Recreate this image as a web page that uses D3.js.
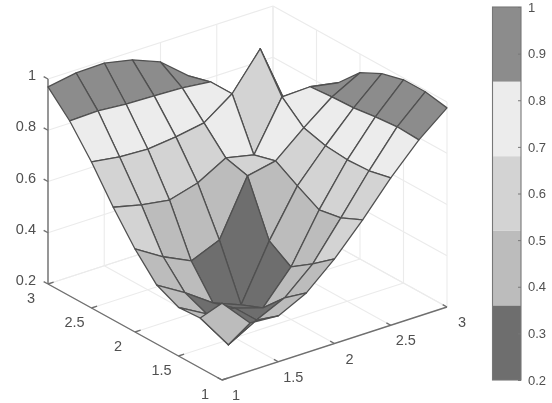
<!doctype html>
<html lang="en">
<head>
<meta charset="utf-8" />
<title>Surface plot</title>
<style>
  html, body { margin: 0; padding: 0; background: #fff; }
  svg { display: block; filter: blur(0.6px); }
  text { font-family: "Liberation Sans", Arial, sans-serif; fill: #505050; }
</style>
</head>
<body>
<svg id="chart" width="552" height="403"></svg>
<script src="https://cdn.jsdelivr.net/npm/d3@7"></script>
<script>
// grid positions
var xValues = [1, 1.25, 1.5, 1.75, 2, 2.25, 2.5, 2.75, 3];
var yValues = [1, 1.25, 1.5, 1.75, 2, 2.25, 2.5, 2.75, 3];

// heights, one row per x value, each row runs along y
var zRow0 = [0.50, 0.395, 0.39, 0.43, 0.524, 0.64, 0.77, 0.883, 0.969];
var zRow1 = [0.387, 0.255, 0.329, 0.365, 0.458, 0.614, 0.754, 0.887, 0.988];
var zRow2 = [0.379, 0.316, 0.316, 0.289, 0.406, 0.597, 0.749, 0.878, 0.991];
var zRow3 = [0.433, 0.367, 0.281, 0.246, 0.452, 0.628, 0.761, 0.874, 0.968];
var zRow4 = [0.53, 0.464, 0.405, 0.46, 0.667, 0.69, 0.78, 0.87, 0.924];
var zRow5 = [0.647, 0.608, 0.592, 0.639, 0.69, 0.666, 0.858, 0.858, 0.834];
var zRow6 = [0.775, 0.756, 0.752, 0.76, 0.783, 0.857, 0.998, 0.70, 0.705];
var zRow7 = [0.888, 0.892, 0.884, 0.872, 0.868, 0.861, 0.73, 0.56, 0.552];
var zRow8 = [0.977, 0.993, 0.993, 0.97, 0.927, 0.841, 0.708, 0.564, 0.478];
var zGrid = [zRow0, zRow1, zRow2, zRow3, zRow4, zRow5, zRow6, zRow7, zRow8];

var xTicks = [1, 1.5, 2, 2.5, 3];
var yTicks = [1, 1.5, 2, 2.5, 3];
var zTicks = [0.2, 0.4, 0.6, 0.8, 1];
var barTicks = [0.2, 0.3, 0.4, 0.5, 0.6, 0.7, 0.8, 0.9, 1];
var bandColors = ['#6e6e6e', '#bcbcbc', '#d3d3d3', '#ececec', '#8c8c8c'];

var svg = d3.select('#chart');

// oblique projection: each data axis moves the point along its own screen direction
var xToPx = d3.scaleLinear().domain([1, 3]).range([0, 225]);
var xToPy = d3.scaleLinear().domain([1, 3]).range([0, -73]);
var yToPx = d3.scaleLinear().domain([1, 3]).range([0, -174]);
var yToPy = d3.scaleLinear().domain([1, 3]).range([0, -96]);
var zToPy = d3.scaleLinear().domain([0.2, 1]).range([0, -205]);

function project(x, y, z) {
  return [222 + xToPx(x) + yToPx(y), 380 + xToPy(x) + yToPy(y) + zToPy(z)];
}

var line = d3.line();
var color = d3.scaleQuantize().domain([0.2, 1]).range(bandColors);

// Walls and floor grid
var grid = svg.append('g').attr('stroke', '#ebebeb').attr('stroke-width', 1.1).attr('fill', 'none');
function gridLine(a, b) {
  grid.append('path').attr('d', line([project(a[0], a[1], a[2]), project(b[0], b[1], b[2])]));
}
xTicks.forEach(function (x) {
  gridLine([x, 1, 0.2], [x, 3, 0.2]);
  gridLine([x, 3, 0.2], [x, 3, 1]);
});
yTicks.forEach(function (y) {
  gridLine([1, y, 0.2], [3, y, 0.2]);
  gridLine([3, y, 0.2], [3, y, 1]);
});
zTicks.forEach(function (z) {
  gridLine([1, 3, z], [3, 3, z]);
  gridLine([3, 3, z], [3, 1, z]);
});

// Axis lines and ticks
var axes = svg.append('g').attr('stroke', '#6f6f6f').attr('stroke-width', 1.4).attr('fill', 'none');
function axisLine(a, b) {
  axes.append('path').attr('d', line([project(a[0], a[1], a[2]), project(b[0], b[1], b[2])]));
}
axisLine([1, 1, 0.2], [3, 1, 0.2]);
axisLine([1, 1, 0.2], [1, 3, 0.2]);
axisLine([1, 3, 0.2], [1, 3, 1]);
xTicks.forEach(function (x) { axisLine([x, 1, 0.2], [x, 1.05, 0.2]); });
yTicks.forEach(function (y) { axisLine([1, y, 0.2], [1.05, y, 0.2]); });
zTicks.forEach(function (z) { axisLine([1, 3, z], [1, 3.05, z]); });

// Surface, back cells first so the front ones cover them
var cells = [];
d3.range(xValues.length - 1).forEach(function (i) {
  d3.range(yValues.length - 1).forEach(function (j) {
    cells.push({ i: i, j: j });
  });
});
cells.sort(function (a, b) { return (b.i + b.j) - (a.i + a.j); });

svg.append('g').selectAll('path')
  .data(cells)
  .enter()
  .append('path')
  .attr('d', function (c) {
    var corners = [[c.i, c.j], [c.i + 1, c.j], [c.i + 1, c.j + 1], [c.i, c.j + 1]];
    return line(corners.map(function (k) {
      return project(xValues[k[0]], yValues[k[1]], zGrid[k[0]][k[1]]);
    })) + 'Z';
  })
  .attr('fill', function (c) { return color(zGrid[c.i][c.j]); })
  .attr('stroke', '#505050')
  .attr('stroke-width', 1.3)
  .attr('stroke-linejoin', 'round');

// Tick labels
function label(x, y, txt, size) {
  svg.append('text').attr('x', x).attr('y', y).attr('font-size', size)
    .attr('text-anchor', 'middle').attr('dy', '0.35em').text(txt);
}
var zLabelPos = zTicks.map(function (z) { return project(1, 3, z); });
zTicks.forEach(function (z, k) {
  svg.append('text').attr('x', 36).attr('y', zLabelPos[k][1] - 4)
    .attr('font-size', 14.5).attr('text-anchor', 'end').attr('dy', '0.35em').text(z);
});
yTicks.forEach(function (y) {
  var p = project(1, y, 0.2);
  label(p[0] - 17, p[1] + 13.5, y, 14.5);
});
xTicks.forEach(function (x) {
  var p = project(x, 1, 0.2);
  label(p[0] + (x === 1 ? 14 : 15), p[1] + 15, x, 14.5);
});

// Colorbar
var barY = d3.scaleLinear().domain([0.2, 1]).range([380, 7]);
var bandEdges = d3.range(bandColors.length).map(function (k) {
  return { lo: color.invertExtent(bandColors[k])[0], hi: color.invertExtent(bandColors[k])[1], c: bandColors[k] };
});
svg.append('g').selectAll('rect')
  .data(bandEdges)
  .enter()
  .append('rect')
  .attr('x', 492.5)
  .attr('width', 28.5)
  .attr('y', function (d) { return barY(d.hi); })
  .attr('height', function (d) { return barY(d.lo) - barY(d.hi); })
  .attr('fill', function (d) { return d.c; });
svg.append('rect').attr('x', 492.5).attr('y', 7).attr('width', 28.5).attr('height', 373)
  .attr('fill', 'none').attr('stroke', '#777').attr('stroke-width', 1.1);

var barAxis = d3.axisRight(barY).tickValues(barTicks).tickSize(0).tickPadding(7)
  .tickFormat(function (d) { return String(d); });
var barG = svg.append('g').attr('transform', 'translate(521,0)').call(barAxis);
barG.select('.domain').remove();
barG.selectAll('text').attr('font-size', 13).attr('font-family', null);
barG.selectAll('.tick').append('line').attr('x2', -3).attr('stroke', '#777');
</script>
</body>
</html>
